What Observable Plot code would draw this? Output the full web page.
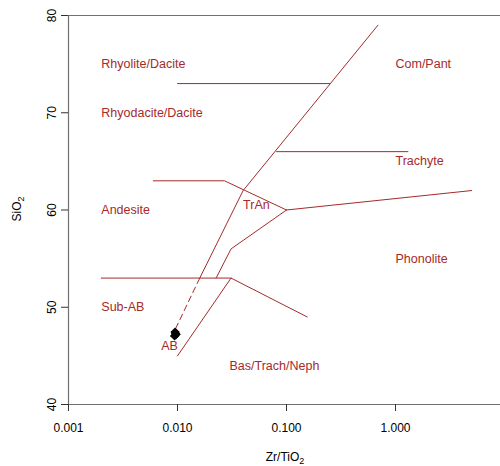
<!DOCTYPE html>
<html><head><meta charset="utf-8">
<script src="https://cdn.jsdelivr.net/npm/d3@7"></script>
<script src="https://cdn.jsdelivr.net/npm/@observablehq/plot@0.6"></script>
<style>
body{margin:0;background:#fff;}
svg{font-family:"Liberation Sans",Arial,sans-serif;}
</style>
</head><body><div id="chart"></div>
<script>
// ---- tick values ----
const xTicks = [0.001, 0.01, 0.1, 1];
const yTicks = [40, 50, 60, 70, 80];

// ---- classification boundaries (Zr/TiO2, SiO2) ----
const mainDiagonal      = [[0.016, 53], [0.040, 62], [0.69, 79]];
const mainDashed        = [[0.0096, 47.8], [0.016, 53]];
const rhyoliteBoundary  = [[0.01, 73], [0.25, 73]];
const trachyteBoundary  = [[0.081, 66], [1.3, 66]];
const andesiteBoundary  = [[0.006, 63], [0.027, 63], [0.1, 60]];
const phonoliteBoundary = [[0.1, 60], [5.0, 62]];
const tranBoundary      = [[0.1, 60], [0.031, 56], [0.0226, 53]];
const subABBoundary     = [[0.002, 53], [0.031, 53]];
const basBoundary       = [[0.01, 45], [0.031, 53], [0.155, 49]];

// ---- field labels ----
const labelText = ["Rhyolite/Dacite", "Rhyodacite/Dacite", "Com/Pant", "Trachyte", "Andesite", "TrAn", "Phonolite", "Sub-AB", "AB", "Bas/Trach/Neph"];
const labelX    = [0.002, 0.002, 1.0, 1.0, 0.002, 0.040, 1.0, 0.002, 0.0071, 0.030];
const labelY    = [75, 70, 75, 65, 60, 60.5, 55, 50, 46, 44];

// ---- samples ----
const sampleZrTiO2 = [0.0095, 0.0097, 0.0094, 0.0096];
const sampleSiO2   = [47.45, 47.2, 47.05, 47.3];

const fieldColor = "#A52A2A";
const axisColor = "#707070";

const solidSets = [mainDiagonal, rhyoliteBoundary, trachyteBoundary, andesiteBoundary, phonoliteBoundary, tranBoundary, subABBoundary, basBoundary];
const solidRows = solidSets.flatMap((pts, i) => pts.map(([x, y]) => ({x, y, id: i})));
const dashedRows = mainDashed.map(([x, y]) => ({x, y}));
const labels = labelText.map((t, i) => ({t, x: labelX[i], y: labelY[i]}));
const samples = sampleZrTiO2.map((x, i) => ({x, y: sampleSiO2[i]}));

const W = 500, H = 466, mL = 68, mT = 15, mB = 62, mR = 0;
const xMax = Math.pow(10, (W - mL) / 109 - 3);

const chart = Plot.plot({
  width: W, height: H,
  marginLeft: mL, marginRight: mR, marginTop: mT, marginBottom: mB,
  style: {fontFamily: '"Liberation Sans", Arial, sans-serif', fontSize: "12px", background: "white", color: "black"},
  x: {type: "log", domain: [0.001, xMax]},
  y: {domain: [40, 80]},
  marks: [
    Plot.line(solidRows, {x: "x", y: "y", z: "id", stroke: fieldColor, strokeWidth: 1}),
    Plot.line(dashedRows, {x: "x", y: "y", stroke: fieldColor, strokeWidth: 1, strokeDasharray: "6,4"}),
    Plot.text(labels, {x: "x", y: "y", text: "t", textAnchor: "start", fill: fieldColor, fontSize: 12.5}),
    Plot.dot(samples, {x: "x", y: "y", symbol: "diamond2", r: 4.2, fill: "black", stroke: "none"}),
    Plot.ruleY([80], {stroke: axisColor, strokeWidth: 1.2}),
    Plot.ruleY([40], {stroke: axisColor, strokeWidth: 1.2}),
    Plot.ruleX([0.001], {stroke: axisColor, strokeWidth: 1.2}),
    Plot.axisX({ticks: xTicks, tickFormat: d3.format(".3f"), tickSize: 7, tickPadding: 12, label: null, stroke: "#333", fontSize: 12}),
    Plot.axisY({ticks: yTicks, tickSize: 7, tickPadding: 6, tickRotate: -90, label: null, stroke: "#333", fontSize: 12})
  ]
});
document.getElementById("chart").appendChild(chart);

const svg = d3.select(chart);
// x axis title with subscript
const xt = svg.append("text").attr("x", 285).attr("y", 461).attr("text-anchor", "middle")
  .attr("font-size", 12).attr("fill", "black");
xt.append("tspan").text("Zr/TiO");
xt.append("tspan").attr("font-size", 9).attr("dy", 3).text("2");
// y axis title with subscript
const yt = svg.append("text").attr("transform", "translate(21,209) rotate(-90)").attr("text-anchor", "middle")
  .attr("font-size", 12).attr("fill", "black");
yt.append("tspan").text("SiO");
yt.append("tspan").attr("font-size", 9).attr("dy", 3).text("2");
</script>
</body></html>
